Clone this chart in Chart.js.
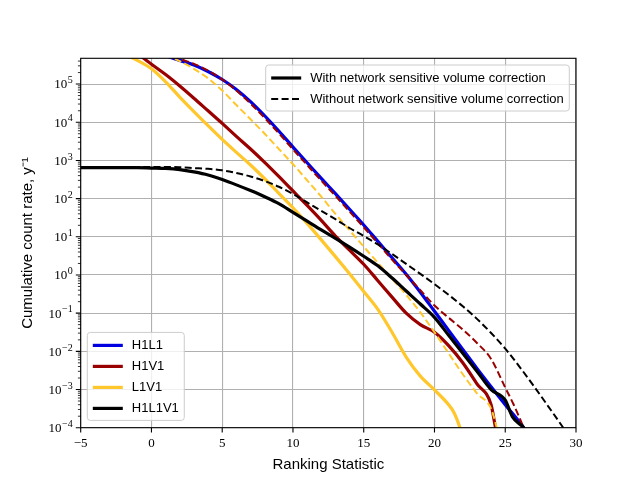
<!DOCTYPE html>
<html><head><meta charset="utf-8">
<script src="https://cdn.jsdelivr.net/npm/chart.js@4"></script>
<style>html,body{margin:0;padding:0;background:#fff}canvas{display:block}</style>
</head><body>
<canvas id="c" width="640" height="480"></canvas>
<script>
// ---- axis data ----
const xTicks = [-5, 0, 5, 10, 15, 20, 25, 30];
const yExponents = [-4, -3, -2, -1, 0, 1, 2, 3, 4, 5];
const yRange = [1e-4, 4.73e5];
const xRange = [-5, 30];

// ---- legend data ----
const networks = ['H1L1', 'H1V1', 'L1V1', 'H1L1V1'];
const networkColors = ['#0000e0', '#990000', '#ffc72c', '#000000'];
const styleLabels = ['With network sensitive volume correction', 'Without network sensitive volume correction'];

// ---- series (values read as log10 of the rate) ----
const h1l1WithX = [1,2,3,4,5,6,7,8,9,10,11,12,13,14,15,16,17,18,19,20,21,22,23,24,25,26,26.3,26.5];
const h1l1WithLog10 = [5.74,5.62,5.50,5.33,5.12,4.86,4.54,4.17,3.77,3.35,2.94,2.53,2.13,1.72,1.31,0.88,0.45,0.02,-0.45,-0.95,-1.45,-1.95,-2.45,-2.93,-3.40,-3.85,-4.00,-4.20];

const h1v1WithX = [-1,0,1,2,3,4,5,6,7,8,9,10,11,12,13,14,15,16,17,18,19,20,21,22,23,24,24.3,24.5];
const h1v1WithLog10 = [5.80,5.52,5.25,4.95,4.63,4.30,3.97,3.63,3.30,2.95,2.58,2.20,1.82,1.43,1.02,0.65,0.28,-0.15,-0.58,-1.00,-1.30,-1.50,-1.85,-2.30,-2.85,-3.40,-3.97,-4.30];

const h1v1WithoutX = [1.5,2,3,4,5,6,7,8,9,10,11,12,13,14,15,16,17,18,19,20,21,22,23,24,25,25.6,26.3,26.5];
const h1v1WithoutLog10 = [5.74,5.66,5.53,5.35,5.12,4.83,4.49,4.11,3.71,3.29,2.88,2.47,2.07,1.66,1.25,0.83,0.40,0.00,-0.40,-0.80,-1.12,-1.43,-1.78,-2.20,-2.95,-3.40,-4.00,-4.20];

const l1v1WithX = [-2,-1,0,1,2,3,4,5,6,7,8,9,10,11,12,13,14,15,16,17,18,19,20,21,21.4,21.8,22];
const l1v1WithLog10 = [5.80,5.62,5.40,5.06,4.66,4.28,3.91,3.55,3.21,2.88,2.52,2.14,1.76,1.35,0.92,0.48,0.03,-0.43,-0.90,-1.50,-2.15,-2.65,-3.01,-3.40,-3.62,-4.00,-4.25];

const l1v1WithoutX = [1,2,3,4,5,6,7,8,9,10,11,12,13,14,15,16,17,18,19,20,21,22,23,24,24.4,24.6];
const l1v1WithoutLog10 = [5.78,5.60,5.40,5.15,4.83,4.45,4.08,3.70,3.30,2.90,2.48,2.05,1.60,1.17,0.74,0.32,-0.10,-0.52,-0.98,-1.50,-2.05,-2.60,-3.10,-3.50,-4.00,-4.30];

const h1l1v1WithX = [-5,-4,-3,-2,-1,0,1,2,3,4,5,6,7,8,9,10,11,12,13,14,15,16,17,18,19,20,21,22,23,24,25,25.5,26.3,26.6];
const h1l1v1WithLog10 = [2.81,2.81,2.81,2.81,2.81,2.80,2.79,2.76,2.70,2.62,2.50,2.36,2.21,2.05,1.87,1.64,1.41,1.18,0.96,0.73,0.49,0.24,-0.08,-0.42,-0.76,-1.11,-1.58,-2.05,-2.52,-3.00,-3.28,-3.71,-4.00,-4.15];

const h1l1v1WithoutX = [-5,-4,-3,-2,-1,0,1,2,3,4,5,6,7,8,9,10,11,12,13,14,15,16,17,18,19,20,21,22,23,24,25,26,27,28,29,29.3];
const h1l1v1WithoutLog10 = [2.83,2.83,2.83,2.83,2.83,2.83,2.83,2.82,2.80,2.78,2.74,2.67,2.58,2.46,2.31,2.12,1.90,1.68,1.46,1.23,1.02,0.80,0.55,0.29,0.03,-0.24,-0.52,-0.82,-1.15,-1.52,-1.93,-2.40,-2.90,-3.42,-3.95,-4.12];

// ---- styles ----
const solidWidth = 3.2;
const dashWidth = 2;
const dashPattern = [7, 3.4];
const gridColor = '#b0b0b0';
const serifFont = '"Liberation Serif", "DejaVu Serif", serif';
const sansFont = '"Liberation Sans", Arial, sans-serif';

function pts(xs, logs) { return xs.map((v, i) => ({ x: v, y: Math.pow(10, logs[i]) })); }
function solid(data, color) {
  return { data, borderColor: color, borderWidth: solidWidth, pointRadius: 0, fill: false, cubicInterpolationMode: 'monotone', clip: 0, borderJoinStyle: 'round', borderCapStyle: 'butt' };
}
function dashed(data, color) {
  return { data, borderColor: color, borderWidth: dashWidth, borderDash: dashPattern, pointRadius: 0, fill: false, cubicInterpolationMode: 'monotone', clip: 0, borderCapStyle: 'butt' };
}

// matplotlib draw order (later = on top); Chart.js draws first dataset on top, so reverse
const drawOrder = [
  solid(pts(h1l1WithX, h1l1WithLog10), networkColors[0]),
  solid(pts(h1v1WithX, h1v1WithLog10), networkColors[1]),
  dashed(pts(h1v1WithoutX, h1v1WithoutLog10), networkColors[1]),
  solid(pts(l1v1WithX, l1v1WithLog10), networkColors[2]),
  dashed(pts(l1v1WithoutX, l1v1WithoutLog10), networkColors[2]),
  solid(pts(h1l1v1WithX, h1l1v1WithLog10), networkColors[3]),
  dashed(pts(h1l1v1WithoutX, h1l1v1WithoutLog10), networkColors[3])
];
const datasets = drawOrder.slice().reverse();

function supDigits(e) { return (e < 0 ? '\u2212' : '') + Math.abs(e); }

function roundRect(ctx, x, y, w, h, r) {
  ctx.beginPath();
  ctx.moveTo(x + r, y);
  ctx.lineTo(x + w - r, y); ctx.arcTo(x + w, y, x + w, y + r, r);
  ctx.lineTo(x + w, y + h - r); ctx.arcTo(x + w, y + h, x + w - r, y + h, r);
  ctx.lineTo(x + r, y + h); ctx.arcTo(x, y + h, x, y + h - r, r);
  ctx.lineTo(x, y + r); ctx.arcTo(x, y, x + r, y, r);
  ctx.closePath();
}

function drawLegend(ctx, entries, anchor, a) {
  const font = '13px ' + sansFont;
  ctx.font = font;
  const pad = 5.5, handle = 30, gap = 9, rowH = 21, padV = 2;
  const tw = Math.max(...entries.map(e => ctx.measureText(e.label).width));
  const w = pad + handle + gap + tw + pad;
  const h = padV * 2 + rowH * entries.length;
  let x, y;
  if (anchor === 'lower left') { x = a.left + 6.6; y = a.bottom - 7.3 - h; }
  else { x = a.right - 6.7 - w; y = a.top + 6.7; }
  ctx.save();
  roundRect(ctx, x, y, w, h, 3);
  ctx.fillStyle = 'rgba(255,255,255,0.8)';
  ctx.fill();
  ctx.strokeStyle = '#cccccc';
  ctx.lineWidth = 1;
  ctx.stroke();
  entries.forEach((e, i) => {
    const cy = y + padV + rowH * i + rowH / 2 + 0.5;
    ctx.beginPath();
    ctx.strokeStyle = e.color;
    ctx.lineWidth = e.width;
    ctx.setLineDash(e.dash || []);
    ctx.lineCap = 'butt';
    ctx.moveTo(x + pad, cy);
    ctx.lineTo(x + pad + handle, cy);
    ctx.stroke();
    ctx.setLineDash([]);
    ctx.fillStyle = '#000';
    ctx.font = font;
    ctx.textBaseline = 'middle';
    ctx.textAlign = 'left';
    ctx.fillText(e.label, x + pad + handle + gap, cy);
  });
  ctx.restore();
}

const decor = {
  id: 'decor',
  afterDatasetsDraw(chart) {
    const { ctx, chartArea: a, scales: { x, y } } = chart;
    ctx.save();
    // frame
    ctx.strokeStyle = '#000';
    ctx.lineWidth = 1.1;
    ctx.strokeRect(a.left, a.top, a.right - a.left, a.bottom - a.top);
    // major ticks
    ctx.beginPath();
    xTicks.forEach(v => { const p = x.getPixelForValue(v); ctx.moveTo(p, a.bottom); ctx.lineTo(p, a.bottom + 4.9); });
    yExponents.forEach(e => { const p = y.getPixelForValue(Math.pow(10, e)); ctx.moveTo(a.left, p); ctx.lineTo(a.left - 4.9, p); });
    ctx.stroke();
    // minor ticks
    ctx.lineWidth = 0.8;
    ctx.beginPath();
    yExponents.forEach(e => {
      for (let m = 2; m <= 9; m++) {
        const v = m * Math.pow(10, e);
        if (v > yRange[1]) continue;
        const p = y.getPixelForValue(v);
        ctx.moveTo(a.left, p); ctx.lineTo(a.left - 2.8, p);
      }
    });
    ctx.stroke();
    // x tick labels
    ctx.fillStyle = '#000';
    ctx.font = '13px ' + serifFont;
    ctx.textAlign = 'center';
    ctx.textBaseline = 'middle';
    xTicks.forEach(v => {
      const label = (v < 0 ? '\u2212' : '') + Math.abs(v);
      ctx.fillText(label, x.getPixelForValue(v), a.bottom + 15.5);
    });
    // y tick labels 10^e
    ctx.textAlign = 'left';
    ctx.textBaseline = 'alphabetic';
    yExponents.forEach(e => {
      const p = y.getPixelForValue(Math.pow(10, e));
      const exp = supDigits(e);
      ctx.font = '10px ' + serifFont;
      const w2 = ctx.measureText(exp).width;
      ctx.font = '13px ' + serifFont;
      const w1 = ctx.measureText('10').width;
      const right = a.left - 8;
      ctx.fillText('10', right - w2 - w1 - 0.5, p + 4.4);
      ctx.font = '10px ' + serifFont;
      ctx.fillText(exp, right - w2, p - 0.8);
    });
    ctx.restore();
  },
  afterDraw(chart) {
    const { ctx, chartArea: a } = chart;
    drawLegend(ctx, networks.map((n, i) => ({ label: n, color: networkColors[i], width: solidWidth })), 'lower left', a);
    drawLegend(ctx, [
      { label: styleLabels[0], color: '#000', width: solidWidth },
      { label: styleLabels[1], color: '#000', width: dashWidth, dash: dashPattern }
    ], 'upper right', a);
  }
};

new Chart(document.getElementById('c'), {
  type: 'line',
  data: { datasets },
  plugins: [decor],
  options: {
    responsive: false,
    animation: false,
    events: [],
    devicePixelRatio: 1,
    layout: { padding: { top: 58.3, right: 64, bottom: 0, left: 0 } },
    plugins: { legend: { display: false }, tooltip: { enabled: false } },
    scales: {
      x: {
        type: 'linear', min: xRange[0], max: xRange[1],
        afterBuildTicks: s => { s.ticks = xTicks.map(v => ({ value: v })); },
        afterFit: s => { s.height = 52.3; },
        ticks: { display: false },
        grid: { color: gridColor, lineWidth: 1.1, drawTicks: false },
        border: { display: false },
        title: { display: true, text: 'Ranking Statistic', color: '#000', font: { family: sansFont, size: 15 }, padding: { top: 0, bottom: 6 } }
      },
      y: {
        type: 'logarithmic', min: yRange[0], max: yRange[1],
        afterBuildTicks: s => { s.ticks = yExponents.map(e => ({ value: Math.pow(10, e) })); },
        afterFit: s => { s.width = 80.7; },
        ticks: { display: false },
        grid: { color: gridColor, lineWidth: 1.1, drawTicks: false },
        border: { display: false },
        title: { display: true, text: 'Cumulative count rate, y\u207B\u00B9', color: '#000', font: { family: sansFont, size: 15 }, padding: { top: 19, bottom: 0 } }
      }
    }
  }
});
</script>
</body></html>
